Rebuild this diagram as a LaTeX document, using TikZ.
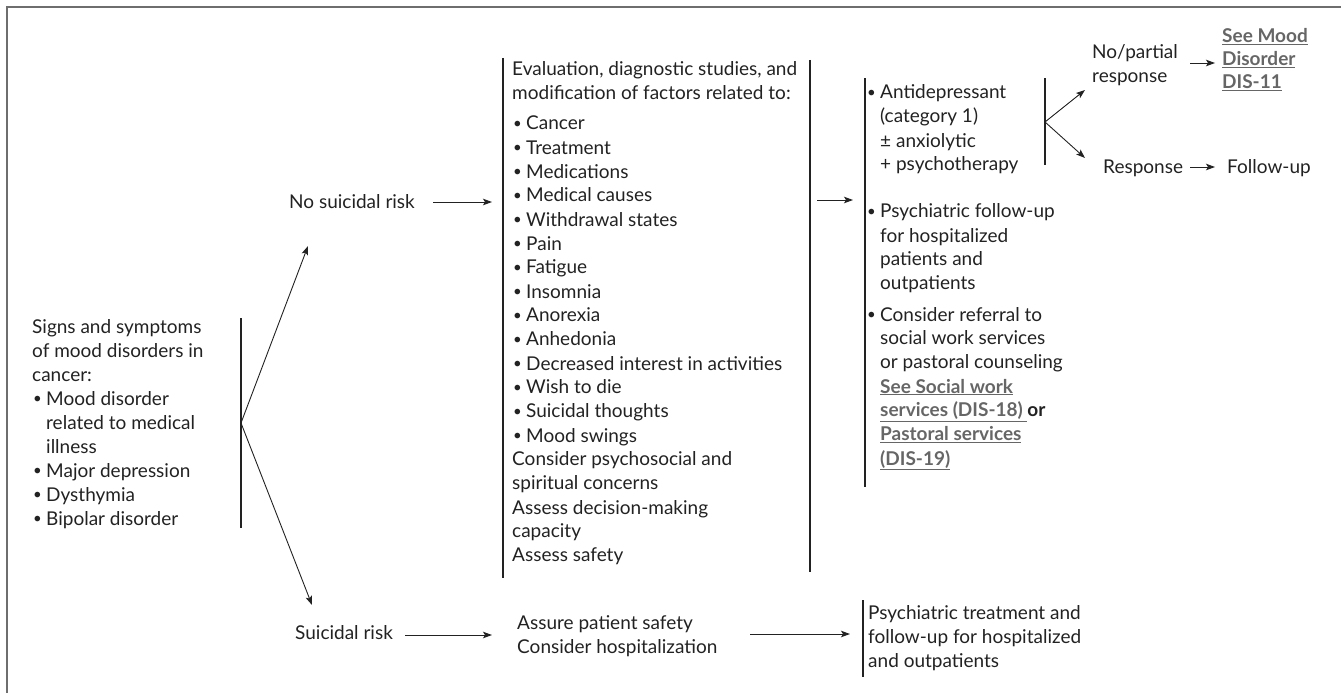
\documentclass[tikz,border=0pt]{standalone}
\usepackage{fontspec}
\setmainfont{Lato}
\usetikzlibrary{arrows.meta,calc}
\definecolor{ink}{HTML}{222222}
\definecolor{linkgray}{HTML}{666666}
\definecolor{framegray}{HTML}{6E6E6E}
% small bullet with its hanging indent, and the matching indent for wrapped lines
\newcommand{\bulletmark}{\makebox[14pt][l]{\hspace{1pt}\raisebox{1.2pt}{\fontsize{15}{15}\selectfont\textbullet}}}
\newcommand{\bulletpad}{\hspace*{14pt}}
% cross-reference to another guideline page
\newcommand{\linkref}[1]{\textcolor{linkgray}{\textbf{\underline{#1}}}}
% a stack of left-aligned lines whose baseline is the first line
\newcommand{\textlines}[1]{\begin{tabular}[t]{@{}l@{}}#1\end{tabular}}
\begin{document}
\begin{tikzpicture}[x=1pt,y=-1pt,
  txt/.style={anchor=base west, inner sep=0pt, text=ink,
              font=\fontsize{19}{24}\selectfont},
  bar/.style={draw=ink, line width=1.1pt},
  flow/.style={draw=ink, line width=0.9pt, -{Stealth[length=9pt,width=6.5pt,inset=2pt]}},
]
\useasboundingbox (0,0) rectangle (1341,693);
\draw[framegray, line width=2pt] (7,693) -- (7,7) -- (1341,7);

% ---- presenting signs ----
\node[txt] (signs) at (32,333) {\textlines{Signs and symptoms\\of mood disorders in\\cancer:\\
  \bulletmark Mood disorder\\\bulletpad related to medical\\\bulletpad illness\\
  \bulletmark Major depression\\\bulletmark Dysthymia\\\bulletmark Bipolar disorder}};
\coordinate (signs-top) at (241,318);
\coordinate (signs-bot) at (241,528);
\coordinate (split) at (241,423);
\draw[bar] (signs-top) -- (signs-bot);

% ---- risk branches ----
\node[txt] (nosr) at (289,208) {No suicidal risk};
\node[txt] (sr) at (295,639) {Suicidal risk};
\coordinate (nosr-in) at (308,246);
\coordinate (sr-in) at (312,605);
\draw[flow] (split) -- (nosr-in);
\draw[flow] (split) -- (sr-in);

% ---- evaluation column ----
\node[txt] (eval) at (512,76) {\textlines{Evaluation, diagnostic studies, and\\modification of factors related to:\\[6pt]
  \bulletmark Cancer\\\bulletmark Treatment\\\bulletmark Medications\\\bulletmark Medical causes\\
  \bulletmark Withdrawal states\\\bulletmark Pain\\\bulletmark Fatigue\\\bulletmark Insomnia\\
  \bulletmark Anorexia\\\bulletmark Anhedonia\\\bulletmark Decreased interest in activities\\
  \bulletmark Wish to die\\\bulletmark Suicidal thoughts\\\bulletmark Mood swings\\
  Consider psychosocial and\\spiritual concerns\\Assess decision-making\\capacity\\Assess safety}};
\coordinate (eval-lt) at (503,58);
\coordinate (eval-lb) at (503,578);
\coordinate (eval-rt) at (810,60);
\coordinate (eval-rb) at (810,572);
\draw[bar] (eval-lt) -- (eval-lb);
\draw[bar] (eval-rt) -- (eval-rb);
\coordinate (nosr-out) at (433,202);
\coordinate (eval-in) at (492,202);
\draw[flow] (nosr-out) -- (eval-in);

% ---- treatment column ----
\node[txt] (treat) at (866,99) {\textlines{\bulletmark Antidepressant\\\bulletpad(category 1)\\\bulletpad ± anxiolytic\\
  \bulletpad + psychotherapy\\[23pt]
  \bulletmark Psychiatric follow-up\\\bulletpad for hospitalized\\\bulletpad patients and\\\bulletpad outpatients\\[7pt]
  \bulletmark Consider referral to\\\bulletpad social work services\\\bulletpad or pastoral counseling\\
  \bulletpad\linkref{See Social work}\\\bulletpad\linkref{services (DIS-18)\ }\textbf{or}\\
  \bulletpad\linkref{Pastoral services}\\\bulletpad\linkref{(DIS-19)}}};
\coordinate (treat-top) at (865,78);
\coordinate (treat-bot) at (865,487);
\draw[bar] (treat-top) -- (treat-bot);
\coordinate (eval-out) at (817,200);
\coordinate (treat-in) at (853,200);
\draw[flow] (eval-out) -- (treat-in);

% ---- response to antidepressant ----
\coordinate (ad-top) at (1045,78);
\coordinate (ad-bot) at (1045,165);
\coordinate (ad-split) at (1045,122);
\draw[bar] (ad-top) -- (ad-bot);
\node[txt] (partial) at (1092,59) {\textlines{No/partial\\response}};
\node[txt] (resp) at (1103,173) {Response};
\coordinate (partial-in) at (1085,90);
\coordinate (resp-in) at (1085,158);
\draw[flow] (ad-split) -- (partial-in);
\draw[flow] (ad-split) -- (resp-in);
\node[txt, font=\fontsize{19}{23}\selectfont] (mood) at (1222,43) {\textlines{\linkref{See Mood}\\\linkref{Disorder}\\\linkref{DIS-11}}};
\node[txt] (follow) at (1227,173) {Follow-up};
\coordinate (partial-out) at (1190,63);
\coordinate (mood-in) at (1215,63);
\coordinate (resp-out) at (1190,167);
\coordinate (follow-in) at (1215,167);
\draw[flow] (partial-out) -- (mood-in);
\draw[flow] (resp-out) -- (follow-in);

% ---- suicidal risk path ----
\node[txt] (safety) at (517,629) {\textlines{Assure patient safety\\Consider hospitalization}};
\coordinate (sr-out) at (405,635);
\coordinate (safety-in) at (492,635);
\draw[flow] (sr-out) -- (safety-in);
\node[txt] (psych) at (868,619) {\textlines{Psychiatric treatment and\\follow-up for hospitalized\\and outpatients}};
\coordinate (psych-top) at (863,600);
\coordinate (psych-bot) at (863,677);
\draw[bar] (psych-top) -- (psych-bot);
\coordinate (safety-out) at (750,634);
\coordinate (psych-in) at (850,634);
\draw[flow] (safety-out) -- (psych-in);
\end{tikzpicture}
\end{document}
